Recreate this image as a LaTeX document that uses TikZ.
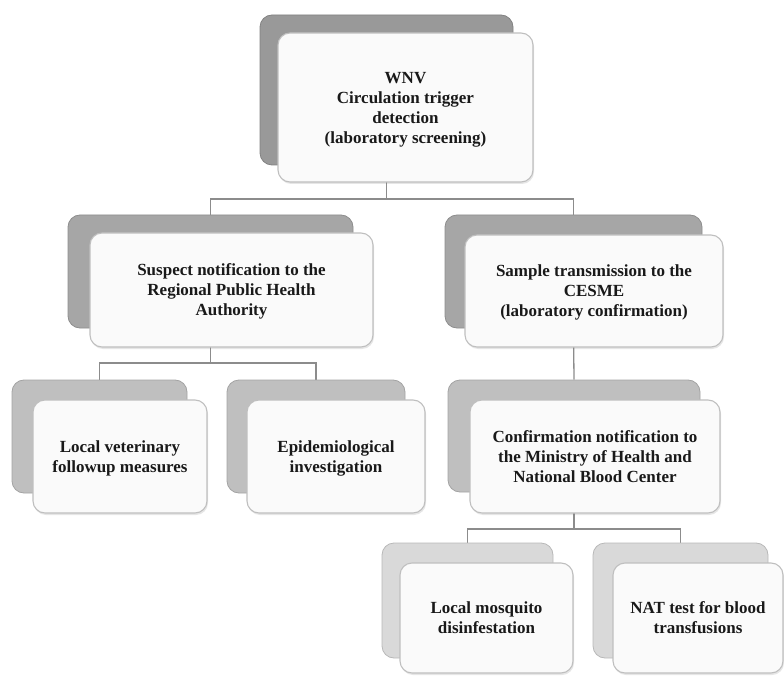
\documentclass[tikz,border=0pt]{standalone}
\usepackage{fontspec}
\setmainfont{Liberation Serif}
\usepackage{xcolor}
\usepackage{tikz}
\usetikzlibrary{shadows,backgrounds}

\definecolor{backA}{gray}{0.60}
\definecolor{backB}{gray}{0.65}
\definecolor{backC}{gray}{0.75}
\definecolor{backD}{gray}{0.85}

\tikzset{
	frontbox/.style={draw=black!25, line width=1.1pt, fill=white!98!black, rounded corners=12pt,
		align=center, text=black!90, font=\bfseries\fontsize{17}{20}\selectfont,
		text depth=-6pt,
		drop shadow={shadow xshift=1pt, shadow yshift=-2pt, opacity=0.2}},
	backbox/.style={draw=#1!85!black, line width=0.8pt, fill=#1, rounded corners=12pt},
	link/.style={draw=black!45, line width=1.3pt}
}

\begin{document}
\begin{tikzpicture}[x=1pt,y=-1pt]
		\useasboundingbox (0,0) rectangle (784,676);
		% back cards
		\node[backbox=backA, minimum width=253pt, minimum height=150pt] (wnvback) at (386.5,90) {};
		\node[backbox=backB, minimum width=285pt, minimum height=113pt] (suspectback) at (210.5,271.5) {};
		\node[backbox=backB, minimum width=257pt, minimum height=113pt] (sampleback) at (573.5,271.5) {};
		\node[backbox=backC, minimum width=175pt, minimum height=113pt] (vetback) at (99.5,436.5) {};
		\node[backbox=backC, minimum width=178pt, minimum height=113pt] (epiback) at (316,436.5) {};
		\node[backbox=backC, minimum width=252pt, minimum height=112pt] (confback) at (574,436) {};
		\node[backbox=backD, minimum width=171pt, minimum height=115pt] (mosqback) at (467.5,600.5) {};
		\node[backbox=backD, minimum width=175pt, minimum height=115pt] (natback) at (680.5,600.5) {};
		%
		\node[frontbox, minimum width=255pt, minimum height=149pt] (wnv) at (405.5,107.5)
			{WNV\\Circulation trigger\\detection\\(laboratory screening)};
		\node[frontbox, minimum width=283pt, minimum height=114pt] (suspect) at (231.5,290)
			{Suspect notification to the\\Regional Public Health\\Authority};
		\node[frontbox, minimum width=258pt, minimum height=112pt] (sample) at (594,291)
			{Sample transmission to the\\CESME\\(laboratory confirmation)};
		\node[frontbox, minimum width=174pt, minimum height=113pt] (vet) at (120,456.5)
			{Local veterinary\\followup measures};
		\node[frontbox, minimum width=178pt, minimum height=113pt] (epi) at (336,456.5)
			{Epidemiological\\investigation};
		\node[frontbox, minimum width=250pt, minimum height=113pt] (conf) at (595,456.5)
			{Confirmation notification to\\the Ministry of Health and\\National Blood Center};
		\node[frontbox, minimum width=173pt, minimum height=110pt] (mosq) at (486.5,618)
			{Local mosquito\\disinfestation};
		\node[frontbox, minimum width=170pt, minimum height=110pt] (nat) at (698,618)
			{NAT test for blood\\transfusions};
		%
		\coordinate (j1) at (0,199);
		\coordinate (j2) at (0,363);
		\coordinate (j3) at (0,529);
		\begin{pgfonlayer}{background}
		\draw[link] (wnvback.south) -- (wnvback.south |- j1) -| (suspectback.north);
		\draw[link] (wnvback.south |- j1) -| (sampleback.north);
		\draw[link] (suspectback.south) -- (suspectback.south |- j2) -| (vetback.north);
		\draw[link] (suspectback.south |- j2) -| (epiback.north);
		\draw[link] (sampleback.south) -- (confback.north);
		\draw[link] (confback.south) -- (confback.south |- j3) -| (mosqback.north);
		\draw[link] (confback.south |- j3) -| (natback.north);
		\end{pgfonlayer}
\end{tikzpicture}
\end{document}
